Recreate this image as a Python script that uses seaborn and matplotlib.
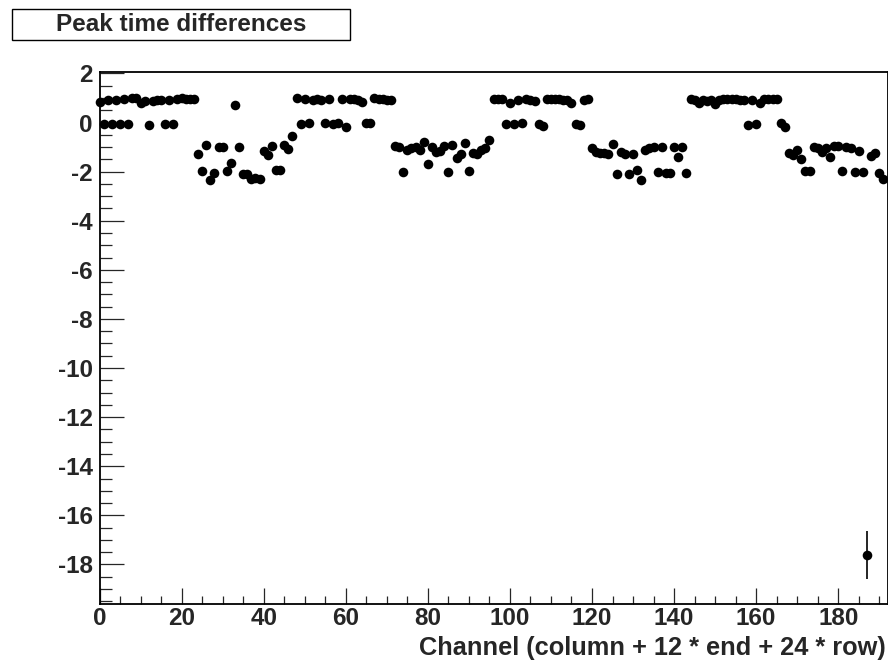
import numpy as np
import pandas as pd
import matplotlib
matplotlib.use("Agg")
import matplotlib.pyplot as plt
import seaborn as sns
from matplotlib.patches import Rectangle
from matplotlib.ticker import MultipleLocator

title = "Peak time differences"
xlabel = "Channel (column + 12 * end + 24 * row)"

channels = list(range(192))

# values, grouped by 24 channels (one row each)
row_0 = [0.85, -0.05, 0.93, -0.05, 0.93, -0.05, 0.97, -0.05, 1.0, 1.0, 0.8, 0.88,
         -0.1, 0.88, 0.9, 0.9, -0.05, 0.9, -0.05, 0.95, 1.0, 0.97, 0.97, 0.95]
row_1 = [-1.3, -1.96, -0.92, -2.34, -2.07, -0.98, -0.98, -1.98, -1.64, 0.71, -0.98, -2.1,
         -2.1, -2.28, -2.25, -2.3, -1.16, -1.32, -0.94, -1.92, -1.92, -0.92, -1.08, -0.55]
row_2 = [1.0, -0.07, 0.95, 0.0, 0.9, 0.95, 0.93, -0.02, 0.95, -0.05, 0.0, 0.97,
         -0.18, 0.97, 0.95, 0.93, 0.85, 0.0, 0.0, 1.0, 0.95, 0.95, 0.92, 0.92]
row_3 = [-0.96, -1.0, -2.0, -1.1, -1.05, -1.0, -1.1, -0.78, -1.7, -1.0, -1.2, -1.15,
         -0.97, -2.0, -0.9, -1.45, -1.3, -0.82, -1.96, -1.25, -1.3, -1.1, -1.05, -0.7]
row_4 = [0.95, 0.97, 0.95, -0.05, 0.8, -0.05, 0.93, -0.02, 0.95, 0.93, 0.88, -0.05,
         -0.15, 0.97, 0.97, 0.95, 0.95, 0.93, 0.9, 0.8, -0.05, -0.1, 0.93, 0.95]
row_5 = [-1.05, -1.2, -1.25, -1.25, -1.3, -0.87, -2.1, -1.2, -1.3, -2.1, -1.3, -1.95,
         -2.35, -1.1, -1.05, -1.0, -2.0, -1.0, -2.05, -2.05, -1.0, -1.4, -1.0, -2.07]
row_6 = [0.97, 0.9, 0.8, 0.92, 0.88, 0.9, 0.75, 0.9, 0.97, 0.97, 0.95, 0.95,
         0.93, 0.93, -0.12, 0.9, -0.05, 0.8, 0.95, 0.97, 0.97, 0.97, -0.03, -0.17]
row_7 = [-1.26, -1.32, -1.12, -1.5, -1.98, -1.98, -1.0, -1.05, -1.2, -1.05, -1.39, -0.95,
         -0.95, -1.98, -1.0, -1.05, -2.0, -1.17, -2.0, -17.62, -1.35, -1.25, -2.07, -2.3]

peak_diff = row_0 + row_1 + row_2 + row_3 + row_4 + row_5 + row_6 + row_7

# only the outlier has a visible error bar
outlier_channel = 187
outlier_error = 0.97

x_ticks = [0, 20, 40, 60, 80, 100, 120, 140, 160, 180]
y_ticks = [-18, -16, -14, -12, -10, -8, -6, -4, -2, 0, 2]

df = pd.DataFrame({"channel": channels, "diff": peak_diff})
df["err"] = np.where(df["channel"] == outlier_channel, outlier_error, 0.0)

sns.set_style("ticks")
plt.rcParams["font.family"] = ["Liberation Sans", "DejaVu Sans"]
plt.rcParams["font.weight"] = "bold"

W, H = 888, 662
fig = plt.figure(figsize=(W / 100, H / 100), dpi=100)
ax = fig.add_axes([99.5 / W, 58 / H, 788 / W, 532.3 / H])

ax.errorbar(df["channel"], df["diff"], yerr=df["err"], fmt="none",
            ecolor="black", elinewidth=1.2, capsize=0, zorder=2)
sns.scatterplot(data=df, x="channel", y="diff", color="black", s=48,
                linewidth=0, ax=ax, legend=False, clip_on=False, zorder=3)

ax.set_xlim(0, 192)
ax.set_ylim(-19.61, 2.07)
ax.set_xticks(x_ticks)
ax.set_yticks(y_ticks)
ax.set_xticklabels([str(v) for v in x_ticks])
ax.set_yticklabels([str(v) for v in y_ticks])
ax.xaxis.set_minor_locator(MultipleLocator(5))
ax.yaxis.set_minor_locator(MultipleLocator(0.5))
ax.set_xlabel("")
ax.set_ylabel("")

ax.tick_params(axis="x", which="major", direction="in", length=11.5, width=0.9,
               labelsize=17.5, pad=2, top=False)
ax.tick_params(axis="x", which="minor", direction="in", length=5.8, width=0.9, top=False)
ax.tick_params(axis="y", which="major", direction="in", length=17, width=0.9,
               labelsize=17.5, pad=5, right=False)
ax.tick_params(axis="y", which="minor", direction="in", length=8.5, width=0.9, right=False)
for lab in ax.get_xticklabels() + ax.get_yticklabels():
    lab.set_fontweight("bold")

for sp in ax.spines.values():
    sp.set_visible(True)
    sp.set_linewidth(1.3)
    sp.set_color("black")

fig.text(886 / W, (H - 655) / H, xlabel, ha="right", va="baseline",
         fontsize=18.3, fontweight="bold")

# title box
bx0, by0, bx1, by1 = 11.7, 9.3, 350, 40
fig.patches.append(Rectangle((bx0 / W, (H - by1) / H), (bx1 - bx0) / W, (by1 - by0) / H,
                             transform=fig.transFigure, facecolor="white",
                             edgecolor="black", linewidth=1.0))
fig.text((bx0 + bx1) / 2 / W, (H - (by0 + by1) / 2) / H, title, ha="center",
         va="center", fontsize=17.5, fontweight="bold")

fig.savefig("out.png", dpi=100, facecolor="white")
